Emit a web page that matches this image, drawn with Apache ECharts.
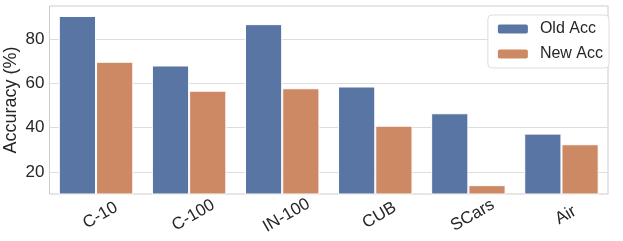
<!DOCTYPE html>
<html><head><meta charset="utf-8">
<script src="https://cdn.jsdelivr.net/npm/echarts@6/dist/echarts.min.js"></script>
<style>html,body{margin:0;padding:0;background:#fff}#c{width:623px;height:241px}</style>
</head><body><div id="c"></div>
<script>
const categories = ['C-10', 'C-100', 'IN-100', 'CUB', 'SCars', 'Air'];
const oldAcc = [90.5, 68.1, 86.8, 58.6, 46.5, 37.3];
const newAcc = [69.8, 56.7, 57.8, 40.9, 14.0, 32.5];
const yTicks = [20, 40, 60, 80];
const seriesNames = ['Old Acc', 'New Acc'];

const font = 'Liberation Sans, Arial, sans-serif';
const chart = echarts.init(document.getElementById('c'), null, {renderer: 'canvas'});
chart.setOption({
  animation: false,
  grid: {left: 49.5, right: 15, top: 6, bottom: 47, show: true, borderColor: '#cccccc', borderWidth: 1, backgroundColor: '#fff',
         containLabel: false, outerBoundsMode: 'none'},
  legend: {
    data: seriesNames, orient: 'vertical', right: 14, top: 15,
    itemWidth: 32, itemHeight: 11, itemGap: 9,
    padding: [6, 6, 6, 8],
    backgroundColor: '#fff', borderColor: '#dddddd', borderWidth: 1, borderRadius: 4,
    textStyle: {fontFamily: font, fontSize: 16, color: '#262626', padding: [0, 0, 0, 6]}
  },
  xAxis: {
    type: 'category', data: categories,
    axisLine: {show: false}, axisTick: {show: false},
    axisLabel: {fontFamily: font, fontSize: 17, color: '#262626', rotate: 30, margin: 14, align: 'center', verticalAlign: 'top'}
  },
  yAxis: {
    type: 'value', min: 10, max: 95,
    name: 'Accuracy (%)', nameLocation: 'middle', nameGap: 29, nameRotate: 90, nameMoveOverlap: false,
    nameTextStyle: {fontFamily: font, fontSize: 18, color: '#262626'},
    axisLine: {show: false},
    axisTick: {show: false, customValues: yTicks},
    axisLabel: {fontFamily: font, fontSize: 17, color: '#262626', margin: 5, customValues: yTicks},
    splitLine: {show: true, lineStyle: {color: '#dddddd', width: 1}}
  },
  series: [
    {name: seriesNames[0], type: 'bar', data: oldAcc, barGap: '0%', barCategoryGap: '20%',
     itemStyle: {color: '#5975a4', borderColor: '#ffffff', borderWidth: 1}},
    {name: seriesNames[1], type: 'bar', data: newAcc,
     itemStyle: {color: '#cc8963', borderColor: '#ffffff', borderWidth: 1}}
  ]
});
</script></body></html>
